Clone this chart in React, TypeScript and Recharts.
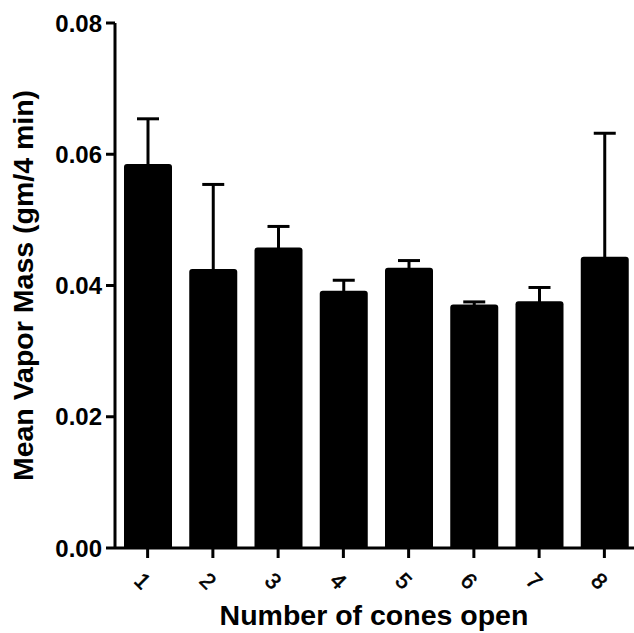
import { BarChart, Bar, XAxis, YAxis, ErrorBar, Label } from 'recharts';

const cones = ['1', '2', '3', '4', '5', '6', '7', '8'];
const meanMass = [0.0585, 0.0425, 0.0458, 0.0392, 0.0427, 0.0371, 0.0376, 0.0444];
const semMass = [0.0069, 0.0129, 0.0032, 0.0016, 0.0011, 0.0004, 0.0021, 0.0188];
const yTicks = [0, 0.02, 0.04, 0.06, 0.08];

const data = cones.map((c, i) => ({
  cones: c,
  mean: meanMass[i],
  sem: semMass[i],
}));

const FONT = '"Liberation Sans", Arial, Helvetica, sans-serif';

// rotated category labels under the x axis
const ConeTick = ({ x, y, payload }: any) => {
  const cx = x - 5;
  const cy = y + 21;
  return (
    <text
      x={cx}
      y={cy}
      transform={`rotate(45, ${cx}, ${cy})`}
      textAnchor="middle"
      dominantBaseline="central"
      fontFamily={FONT}
      fontSize={22}
      fill="#000"
      stroke="#000"
      strokeWidth={0.6}
    >
      {payload.value}
    </text>
  );
};

export default function App() {
  return (
    <div style={{ position: 'absolute', left: 0, top: 0, background: '#fff' }}>
      <BarChart
        width={634}
        height={633}
        data={data}
        margin={{ top: 23, right: -3, left: 0, bottom: 0 }}
      >
        <XAxis
          dataKey="cones"
          height={85}
          axisLine={{ stroke: '#000', strokeWidth: 3 }}
          tickLine={{ stroke: '#000', strokeWidth: 3 }}
          tickSize={10}
          tick={<ConeTick />}
          interval={0}
        >
          <Label
            content={({ viewBox }: any) => (
              <text
                x={viewBox.x + viewBox.width / 2 - 2}
                y={625}
                textAnchor="middle"
                fontFamily={FONT}
                fontWeight="bold"
                fontSize={28.5}
                fill="#000"
              >
                Number of cones open
              </text>
            )}
          />
        </XAxis>
        <YAxis
          width={115}
          domain={[0, 0.08]}
          ticks={yTicks}
          interval={0}
          tickFormatter={(v: number) => v.toFixed(2)}
          axisLine={{ stroke: '#000', strokeWidth: 3 }}
          tickLine={{ stroke: '#000', strokeWidth: 3 }}
          tickSize={9}
          tickMargin={4}
          tick={{ fill: '#000', fontFamily: FONT, fontWeight: 'bold', fontSize: 24 }}
        >
          <Label
            content={({ viewBox }: any) => {
              const cy = viewBox.y + viewBox.height / 2;
              return (
                <text
                  x={33}
                  y={cy}
                  transform={`rotate(-90, 33, ${cy})`}
                  textAnchor="middle"
                  fontFamily={FONT}
                  fontWeight="bold"
                  fontSize={28.5}
                  fill="#000"
                >
                  Mean Vapor Mass (gm/4 min)
                </text>
              );
            }}
          />
        </YAxis>
        <Bar
          dataKey="mean"
          fill="#000"
          barSize={48}
          radius={[3, 3, 0, 0]}
          isAnimationActive={false}
        >
          <ErrorBar
            dataKey="sem"
            direction="y"
            width={11}
            stroke="#000"
            strokeWidth={3}
            isAnimationActive={false}
          />
        </Bar>
      </BarChart>
    </div>
  );
}
